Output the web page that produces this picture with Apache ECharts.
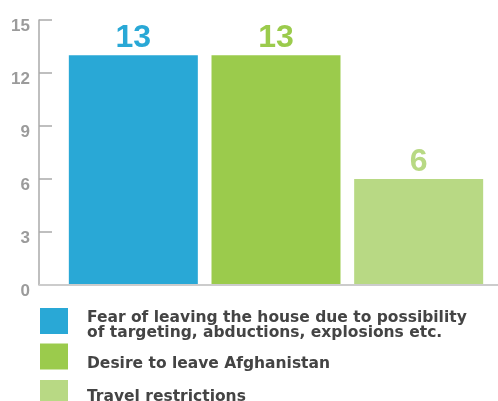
<!DOCTYPE html>
<html><head><meta charset="utf-8">
<script src="https://cdn.jsdelivr.net/npm/echarts@6/dist/echarts.min.js"></script>
<style>html,body{margin:0;padding:0;background:#fff;overflow:hidden}#c{width:498px;height:401px}</style>
</head><body><div id="c"></div>
<script>
const categories = ["Fear of leaving the house due to possibility\nof targeting, abductions, explosions etc.", "Desire to leave Afghanistan", "Travel restrictions"];
const values = [13, 13, 6];
const colors = ["#29a8d6", "#9bcb4c", "#b8d984"];
const yTicks = [0, 3, 6, 9, 12, 15];

const chart = echarts.init(document.getElementById('c'));
const FONT = '"DejaVu Sans", sans-serif';
const NUMFONT = '"Liberation Sans", Arial, sans-serif';
const series = categories.map((name, i) => ({
  name: name,
  type: 'bar',
  stack: 'all',
  barWidth: 129,
  itemStyle: {color: colors[i]},
  label: {show: true, position: 'top', distance: 1, color: colors[i], fontSize: 32, fontWeight: 'bold', fontFamily: NUMFONT},
  data: values.map((v, j) => j === i ? v : '-')
}));
const legendTops = [305.5, 343.5, 380];
const legendSpacer = [9, 14, 8];
const legends = categories.map((name, i) => ({
  data: [name], left: 40, top: legendTops[i], orient: 'vertical', padding: 0,
  itemWidth: 28, itemHeight: 26, itemGap: 0, icon: 'rect',
  formatter: n => '{s| }\n' + n.split('\n').map(l => '{a|' + l + '}').join('\n'),
  textStyle: {
    padding: [0,0,0,14],
    rich: {
      s: {fontSize: 1, lineHeight: legendSpacer[i], fontFamily: FONT},
      a: {fontFamily: FONT, fontSize: 15.5, fontWeight: 'bold', color: '#444', lineHeight: 15}
    }
  },
  selectedMode: false
}));
chart.setOption({
  animation: false,
  grid: {left: 62, right: 8, top: 20, bottom: 116},
  xAxis: {type: 'category', data: categories, axisLine: {show: false}, axisTick: {show: false}, axisLabel: {show: false}, splitLine: {show: false}},
  yAxis: {type: 'value', min: yTicks[0], max: yTicks[yTicks.length-1], interval: 3, offset: 23,
     axisLine: {show: true, lineStyle: {color: '#aaaaaa', width: 1.5}},
     axisTick: {show: true, inside: true, length: 13, lineStyle: {color: '#aaaaaa', width: 1.5}},
     axisLabel: {margin: 9, verticalAlign: 'top', lineHeight: 12, fontFamily: NUMFONT, fontSize: 17, fontWeight: 'bold', color: '#9b9b9b'},
     splitLine: {show: false}},
  legend: legends,
  series: series
});
// x baseline from the y axis to the right edge, placed at value 0 of the y scale
const y0 = chart.convertToPixel({yAxisIndex: 0}, yTicks[0]);
chart.setOption({graphic: [{type: 'line', z: 5, shape: {x1: 39, y1: y0, x2: 498, y2: y0}, style: {stroke: '#cccccc', lineWidth: 2}}]});
</script></body></html>
